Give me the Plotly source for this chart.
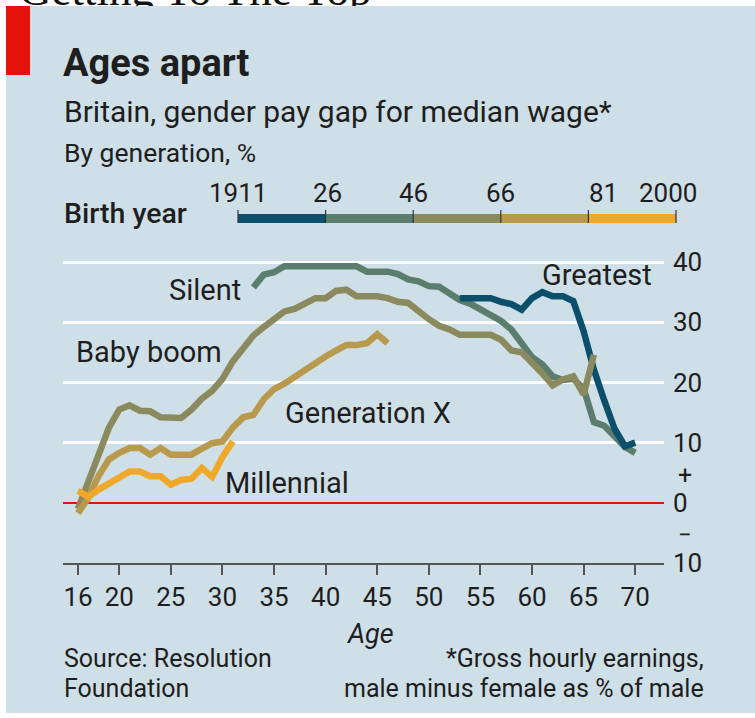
import plotly.graph_objects as go

# ---------------- data ----------------
greatest_age = list(range(53, 71))
greatest_gap = [34.0, 34.0, 34.0, 34.0, 33.4, 33.0, 32.1, 34.0, 35.0, 34.3,
                34.3, 33.5, 28.5, 22.1, 17.0, 12.3, 9.4, 10.0]

silent_age = list(range(33, 71))
silent_gap = [35.8, 37.9, 38.3, 39.3, 39.3, 39.3, 39.3, 39.3, 39.3, 39.3,
              39.3, 38.4, 38.4, 38.4, 38.0, 37.1, 36.8, 36.0, 35.9, 34.8,
              33.7, 33.1, 32.2, 31.0, 30.2, 28.8, 26.4, 24.2, 23.0, 21.0,
              20.4, 20.6, 19.0, 13.4, 12.8, 11.0, 9.3, 8.3]

babyboom_age = list(range(16, 67))
babyboom_gap = [-1.0, 3.5, 8.0, 12.5, 15.5, 16.2, 15.3, 15.2, 14.2, 14.1,
                14.1, 15.5, 17.3, 18.6, 20.6, 23.5, 25.8, 27.8, 29.2, 30.5,
                31.8, 32.2, 33.0, 34.0, 34.0, 35.2, 35.4, 34.3, 34.3, 34.3,
                34.0, 33.4, 33.2, 31.8, 30.5, 29.4, 28.8, 27.9, 27.9, 27.9,
                27.9, 27.1, 25.3, 25.0, 23.3, 21.5, 19.5, 20.5, 21.0, 18.0,
                24.6]

genx_age = list(range(16, 47))
genx_gap = [-1.7, 0.8, 4.5, 7.2, 8.3, 9.1, 9.1, 8.0, 9.1, 8.0,
            8.0, 8.0, 9.0, 9.9, 10.2, 12.5, 14.2, 14.6, 17.2, 18.9,
            19.8, 21.0, 22.2, 23.2, 24.3, 25.3, 26.2, 26.2, 26.5, 28.0,
            26.5]

millennial_age = list(range(16, 32))
millennial_gap = [2.0, 1.0, 2.2, 3.2, 4.4, 5.2, 5.2, 4.4, 4.4, 3.0,
                  3.8, 4.0, 5.8, 4.3, 7.6, 10.2]

x_ticks = [16, 20, 25, 30, 35, 40, 45, 50, 55, 60, 65, 70]
y_ticks = [40, 30, 20, 10, 0, -10]
y_ticktext = ["40", "30", "20", "10", "0", "10"]
birth_years = ["1911", "26", "46", "66", "81", "2000"]
generations = ["Greatest", "Silent", "Baby boom", "Generation X", "Millennial"]
page_header = "Getting To The Top"

# ---------------- style ----------------
W, H = 755, 718
PLOT_L, PLOT_R, PLOT_T, PLOT_B = 63, 664, 250, 563   # plot area in pixels
X_RANGE = [14.547, 72.79]
Y_RANGE = [-10, 42]
BG = "#cfdfe7"
RED = "#e3120b"
TXT = "#1e1e1e"
FONT = "Roboto"
colors = {
    "Greatest": "#0c4f6a",
    "Silent": "#5b7d6d",
    "Baby boom": "#8b8a5e",
    "Generation X": "#b99a4c",
    "Millennial": "#f0a82a",
}


def fx(px):
    return px / W


def fy(py):
    return 1 - py / H


fig = go.Figure()

series = [
    ("Silent", silent_age, silent_gap),
    ("Greatest", greatest_age, greatest_gap),
    ("Baby boom", babyboom_age, babyboom_gap),
    ("Generation X", genx_age, genx_gap),
    ("Millennial", millennial_age, millennial_gap),
]
for name, xs, ys in series:
    fig.add_trace(go.Scatter(
        x=xs, y=ys, mode="lines", name=name,
        line=dict(color=colors[name], width=6.5),
        hoverinfo="skip", showlegend=False,
    ))

# cut-off page header peeking above the chart panel (own pixel-scaled subplot
# so the panel strip can be drawn over its descenders)
fig.add_trace(go.Scatter(
    x=[19], y=[16.3], mode="text", text=[page_header],
    textposition="top right", cliponaxis=False,
    textfont=dict(family="Liberation Serif", size=45, color="#111111"),
    hoverinfo="skip", showlegend=False, xaxis="x2", yaxis="y2",
))

shapes = []
# chart panel
shapes.append(dict(type="rect", xref="paper", yref="paper", layer="below",
                   x0=fx(6), x1=fx(W + 5), y0=fy(713), y1=fy(6),
                   fillcolor=BG, line=dict(width=0)))
# panel strip covering the header's descenders
shapes.append(dict(type="rect", xref="paper", yref="paper", layer="above",
                   x0=fx(6), x1=fx(W + 5), y0=fy(24), y1=fy(6),
                   fillcolor=BG, line=dict(width=0)))
# red tag
shapes.append(dict(type="rect", xref="paper", yref="paper", layer="above",
                   x0=fx(6), x1=fx(30), y0=fy(75), y1=fy(6),
                   fillcolor=RED, line=dict(width=0)))
# birth-year colour key
seg_x = [238, 325.6, 413.2, 500.8, 588.4, 676]
for i, name in enumerate(generations):
    shapes.append(dict(type="rect", xref="paper", yref="paper", layer="above",
                       x0=fx(seg_x[i]), x1=fx(seg_x[i + 1]), y0=fy(223), y1=fy(214),
                       fillcolor=colors[name], line=dict(width=0)))
for sx in seg_x:
    shapes.append(dict(type="line", xref="paper", yref="paper", layer="above",
                       x0=fx(sx), x1=fx(sx), y0=fy(223), y1=fy(210),
                       line=dict(color="#333333", width=1.2)))

ann = []


def text(s, px, py, size, xanchor="left", color=TXT, family=FONT, weight=None, style=None):
    f = dict(family=family, size=size, color=color)
    if weight:
        f["weight"] = weight
    if style:
        f["style"] = style
    ann.append(dict(text=s, xref="paper", yref="paper", x=fx(px), y=fy(py),
                    xanchor=xanchor, yanchor="middle", showarrow=False, font=f))


text("Ages apart", 61, 63, 38, weight=700)
text("Britain, gender pay gap for median wage*", 62, 111, 30)
text("By generation, %", 62, 152, 26.5)
text("Birth year", 62, 214, 28.5, weight=500)
label_x = [238, 327, 413, 500, 603, 668]
for lab, lx in zip(birth_years, label_x):
    text(lab, lx, 193, 26, xanchor="center")

# in-chart series labels
text("Silent", 205, 290, 29, xanchor="center")
text("Greatest", 597, 275, 29, xanchor="center")
text("Baby boom", 149, 352, 29, xanchor="center")
text("Generation X", 368, 413, 29, xanchor="center")
text("Millennial", 287, 483, 29, xanchor="center")

# sign markers on the value axis
text("+", 685, 475, 25, xanchor="center")
text("\u2212", 685, 535, 24, xanchor="center")

text("Age", 370, 634, 27, xanchor="center", style="italic")
text("Source: Resolution", 62, 658, 25)
text("Foundation", 62, 688, 25)
text("*Gross hourly earnings,", 706, 658, 25, xanchor="right")
text("male minus female as % of male", 706, 688, 25, xanchor="right")

fig.update_layout(
    width=W, height=H,
    margin=dict(l=0, r=0, t=0, b=0, pad=0, autoexpand=False),
    paper_bgcolor="white", plot_bgcolor="rgba(0,0,0,0)",
    font=dict(family=FONT, color=TXT),
    shapes=shapes, annotations=ann, showlegend=False,
    xaxis=dict(
        domain=[fx(PLOT_L), fx(PLOT_R)], anchor="y", automargin=False,
        range=X_RANGE, tickmode="array", tickvals=x_ticks,
        ticktext=[str(v) for v in x_ticks], ticks="outside", ticklen=10,
        tickwidth=1.5, tickcolor="#555555", showline=True, linecolor="#555555",
        linewidth=2, showgrid=False, zeroline=False,
        tickfont=dict(family=FONT, size=26, color=TXT), fixedrange=True,
    ),
    yaxis=dict(
        domain=[fy(PLOT_B), fy(PLOT_T)], anchor="x", automargin=False,
        range=Y_RANGE, side="right", tickmode="array", tickvals=y_ticks,
        ticktext=y_ticktext, ticks="", showline=False, showgrid=True,
        gridcolor="white", gridwidth=2.5, zeroline=True, zerolinecolor=RED,
        zerolinewidth=1.5, tickfont=dict(family=FONT, size=26, color=TXT),
        ticklabelstandoff=8, fixedrange=True,
    ),
    xaxis2=dict(domain=[0, 1], range=[0, W], anchor="y2", visible=False,
                fixedrange=True, automargin=False),
    yaxis2=dict(domain=[fy(30), 1], range=[30, 0], anchor="x2", visible=False,
                fixedrange=True, automargin=False),
)

fig.write_html("out.html", config={"displayModeBar": False},
               post_script="document.body.style.margin='0';")
